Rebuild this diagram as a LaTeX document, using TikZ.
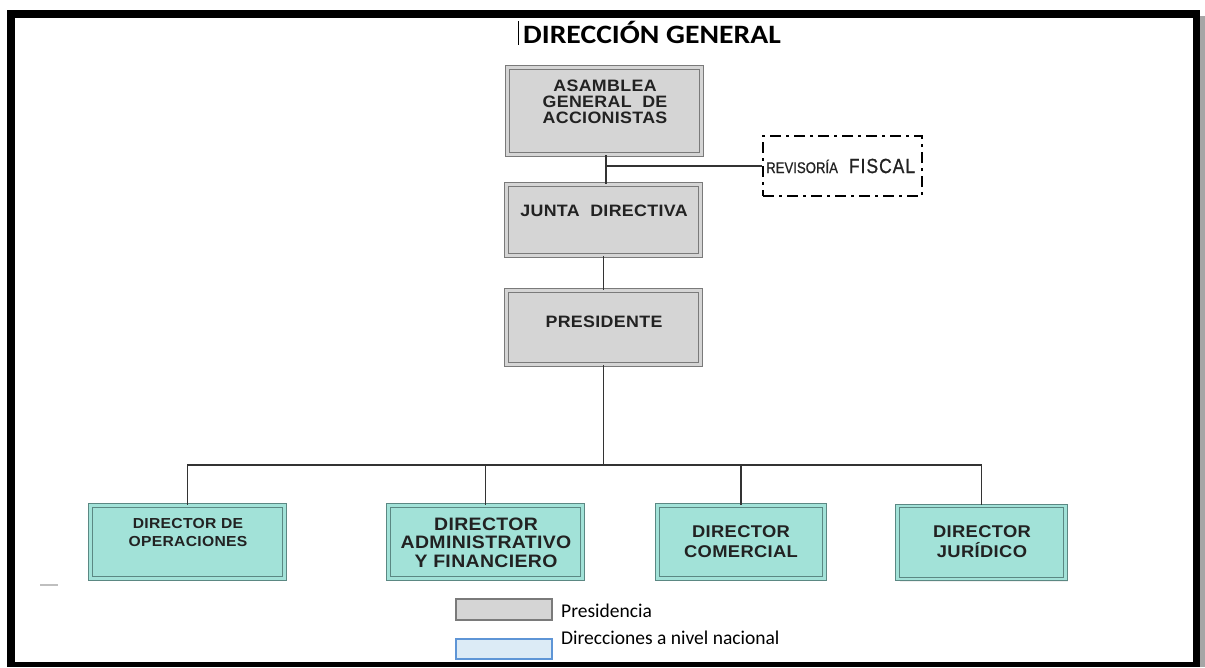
\documentclass[tikz,border=0pt]{standalone}
\usepackage{fontspec}
\usetikzlibrary{shadows}
\setmainfont{Liberation Sans}
\newfontfamily\boxfont{Liberation Sans}[FakeStretch=1.08,LetterSpace=2.0]
\newfontfamily\revfont{Liberation Sans}[FakeStretch=0.85,FakeBold=0.8]
\newfontfamily\fiscalfont{Liberation Sans}[FakeStretch=0.85,FakeBold=0.8,LetterSpace=5.0]
\newfontfamily\titlefont{Carlito}[FakeStretch=1.12]
\newfontfamily\legendfont{Carlito}
\definecolor{boxgray}{HTML}{D5D5D5}
\definecolor{edgegray}{HTML}{7A7A7A}
\definecolor{tealfill}{HTML}{A2E2D8}
\definecolor{tealedge}{HTML}{5B8883}
\definecolor{legblue}{HTML}{DCEBF6}
\definecolor{legblueedge}{HTML}{5E95D6}
\definecolor{inkgray}{HTML}{222222}
\definecolor{linkgray}{HTML}{333333}
\begin{document}
\begin{tikzpicture}[x=1pt,y=-1pt,
  softshadow/.style={drop shadow={opacity=0.12,shadow xshift=2.5pt,shadow yshift=-2.5pt}},
  graybox/.style={draw=edgegray,line width=1.1pt,double=boxgray,double distance=2.6pt,fill=boxgray,inner sep=0pt,softshadow},
  tealbox/.style={draw=tealedge,line width=1.1pt,double=tealfill,double distance=2.6pt,fill=tealfill,inner sep=0pt,softshadow},
  boxtext/.style={text=inkgray,align=center,inner sep=0pt},
  link/.style={draw=linkgray,line width=1.7pt},
]
\useasboundingbox (0,0) rectangle (1205,667);
% page frame
\fill[black] (7,10) rectangle (1200,667);
\fill[white] (15,18) rectangle (1193,662);
\fill[black!35] (1200,16) rectangle (1205,667);

% title
\node[font=\titlefont\bfseries\fontsize{26.5}{26.5}\selectfont,inner sep=0pt] (title) at (652,32) {DIRECCIÓN GENERAL};
\draw[black,line width=0.8pt] (518,21) -- (518,45);
\draw[black!25,line width=1.2pt] (40,585) -- (58,585);

% upper chain
\node[graybox,minimum width=194pt,minimum height=87pt] (asam) at (604.5,111) {};
\node[boxtext,font=\boxfont\bfseries\fontsize{16.5}{16}\selectfont] (asamt) at (605,101.5) {ASAMBLEA\\GENERAL\ \ DE\\ACCIONISTAS};
\node[graybox,minimum width=194pt,minimum height=71pt] (junta) at (603.5,220) {};
\node[boxtext,font=\boxfont\bfseries\fontsize{16.5}{16}\selectfont] (juntat) at (604,211) {JUNTA\ \ DIRECTIVA};
\node[graybox,minimum width=194pt,minimum height=74pt] (pres) at (603.5,327.5) {};
\node[boxtext,font=\boxfont\bfseries\fontsize{16.5}{16}\selectfont] (prest) at (604,322) {PRESIDENTE};

% fiscal review
\node[draw=black,line width=2.4pt,dash pattern=on 11pt off 5pt on 3pt off 5pt,minimum width=159pt,minimum height=60pt,inner sep=0pt] (rev) at (842.5,166) {};
\node[anchor=west,inner sep=0pt,text=inkgray] (revt) at (766,166) {\revfont\fontsize{15.5}{16}\selectfont REVISORÍA\hspace{11pt}\fiscalfont\fontsize{20.5}{20}\selectfont FISCAL};

% directors
\node[tealbox,minimum width=194pt,minimum height=73pt] (d1) at (187.5,542) {};
\node[boxtext,font=\boxfont\bfseries\fontsize{14.5}{18}\selectfont] (d1t) at (188,533) {DIRECTOR DE\\OPERACIONES};
\node[tealbox,minimum width=194pt,minimum height=73pt] (d2) at (485.5,542) {};
\node[boxtext,font=\boxfont\bfseries\fontsize{18}{18.5}\selectfont] (d2t) at (486,542.5) {DIRECTOR\\ADMINISTRATIVO\\Y FINANCIERO};
\node[tealbox,minimum width=167pt,minimum height=73pt] (d3) at (741,542) {};
\node[boxtext,font=\boxfont\bfseries\fontsize{17}{20}\selectfont] (d3t) at (741,542) {DIRECTOR\\COMERCIAL};
\node[tealbox,minimum width=168pt,minimum height=73pt] (d4) at (981.5,542.5) {};
\node[boxtext,font=\boxfont\bfseries\fontsize{17}{20}\selectfont] (d4t) at (982,542) {DIRECTOR\\JURÍDICO};

% connectors
\coordinate (tap) at (606,166);
\coordinate (bus) at (605,465);
\draw[link] (asam.south -| tap) -- (junta.north -| tap);
\draw[link] (tap) -- (rev.west);
\draw[link] (junta.south) -- (pres.north);
\draw[link] (pres.south) -- (pres.south |- bus);
\draw[link] (d1.north) -- (d1.north |- bus) -- (d4.north |- bus) -- (d4.north);
\draw[link] (d2.north) -- (d2.north |- bus);
\draw[link] (d3.north) -- (d3.north |- bus);

% legend
\node[draw=edgegray,line width=1.5pt,fill=boxgray,minimum width=96pt,minimum height=21pt,inner sep=0pt] (legp) at (504,609.5) {};
\node[draw=legblueedge,line width=1.8pt,fill=legblue,minimum width=96pt,minimum height=20pt,inner sep=0pt] (legd) at (504,649) {};
\node[anchor=west,font=\legendfont\fontsize{19.5}{19}\selectfont,inner sep=0pt] (legpt) at (561,611) {Presidencia};
\node[anchor=west,font=\legendfont\fontsize{19.5}{19}\selectfont,inner sep=0pt] (legdt) at (561,638) {Direcciones a nivel nacional};
\end{tikzpicture}
\end{document}
